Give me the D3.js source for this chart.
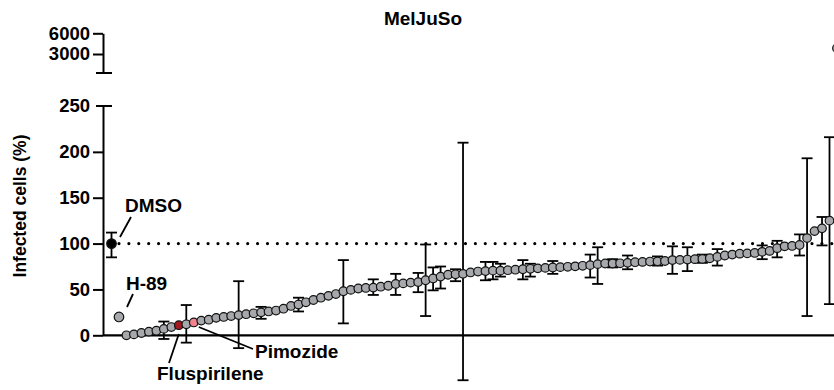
<!DOCTYPE html>
<html>
<head>
<meta charset="utf-8">
<script src="https://cdn.jsdelivr.net/npm/d3@7"></script>
<style>
  html, body { margin: 0; padding: 0; background: #fff; }
  svg { display: block; font-family: "Liberation Sans", Arial, sans-serif; font-weight: bold; }
</style>
</head>
<body>
<div id="chart"></div>
<script>
// MelJuSo screen - infected cells per compound, sorted ascending

const controlNames = ['DMSO', 'H-89'];
const controlValues = [100, 20];
const controlErr = [[85, 112], null];

// compound means (%), sorted; last one sits on the upper (broken) axis segment
const values = [
  0, 1, 2.5, 4, 5, 7, 9, 11, 12, 14,
  16, 17, 19, 20, 21, 22, 23, 24, 25, 26,
  27, 29, 32, 33.5, 36, 38.5, 41, 43, 45, 48,
  49.5, 51, 51.6, 52, 53, 54, 56, 56.6, 57.4, 58,
  60, 62, 64, 66, 66.5, 67, 68.5, 69.5, 70, 70.5,
  70.5, 71, 71.5, 72, 72.5, 73, 73.5, 74, 74.3, 74.7,
  75.2, 75.8, 76.5, 77.6, 78.3, 78.3, 78.5, 79, 79.7, 80,
  80.4, 80.6, 81, 82, 82.2, 82.6, 83, 83.3, 84, 85.5,
  87, 88, 89, 89.3, 89.8, 91, 92, 95, 97, 97.4,
  98.5, 106, 113.6, 116.6, 125, 3850
];

// [compound index, low, high] for the visible error bars
const errBars = [
  [5, -4, 15], [8, -8, 33], [15, -14, 59], [18, 18, 31], [23, 26, 41],
  [29, 13, 82], [33, 44, 61], [36, 44, 67], [39, 47, 68], [40, 21, 99],
  [41, 49, 74], [42, 51, 75], [44, 59, 72], [45, -49, 210], [48, 60, 80],
  [49, 61, 80], [50, 64, 78], [53, 61, 82], [54, 64, 78], [57, 67, 81],
  [62, 63, 88], [63, 56, 96], [65, 74, 83], [67, 72, 87], [71, 76, 86],
  [73, 67, 97], [75, 70, 96], [77, 79, 88], [79, 76, 94], [85, 83, 98],
  [87, 85, 103], [90, 87, 110], [91, 21, 193], [93, 98, 129], [94, 34, 216]
];

const hitNames = ['Fluspirilene', 'Pimozide'];
const hitIndex = [7, 9];

const lowTicks = [0, 50, 100, 150, 200, 250];
const highTicks = [3000, 6000];
const refLine = 100;

const W = 834, H = 390;
const axisX = 103;
const grey = '#a7a8ab';
const hitColors = ['#a3191f', '#f2838c'];

const svg = d3.select('#chart').append('svg')
  .attr('width', W)
  .attr('height', H);

// x: controls at -2, -1, compounds from 0
const x = d3.scaleLinear().domain([-2, 94]).range([111.5, 829.5]);
const yLow = d3.scaleLinear().domain([0, 250]).range([335.3, 106]);
const yHigh = d3.scaleLinear().domain([250, 6000]).range([73, 33.3]);
const yPos = v => v > 250 ? yHigh(v) : yLow(v);

// title + y label
svg.append('text')
  .attr('x', 423).attr('y', 25)
  .attr('text-anchor', 'middle')
  .attr('font-size', 19)
  .text('MelJuSo');

svg.append('text')
  .attr('transform', 'translate(26,206) rotate(-90)')
  .attr('text-anchor', 'middle')
  .attr('font-size', 17.5)
  .text('Infected cells (%)');

// y axes (two segments)
const styleAxis = g => {
  g.select('.domain').attr('stroke', '#000').attr('stroke-width', 2);
  g.selectAll('.tick line').attr('stroke', '#000').attr('stroke-width', 2);
  g.selectAll('.tick text')
    .attr('font-size', 18.5)
    .attr('font-weight', 'bold')
    .attr('font-family', '"Liberation Sans", Arial, sans-serif')
    .attr('fill', '#000');
};

const gLow = svg.append('g')
  .attr('transform', `translate(${axisX},0)`)
  .call(d3.axisLeft(yLow).tickValues(lowTicks).tickSize(10).tickSizeOuter(0).tickPadding(3))
  .call(styleAxis);
gLow.selectAll('.tick').filter(d => d === 250).select('line').remove();

svg.append('g')
  .attr('transform', `translate(${axisX},0)`)
  .call(d3.axisLeft(yHigh).tickValues(highTicks).tickFormat(d3.format('d'))
    .tickSize(10).tickSizeOuter(0).tickPadding(3))
  .call(styleAxis);

// break caps
[yHigh(250), yLow(250)].forEach(yy => {
  svg.append('line')
    .attr('x1', axisX - 7).attr('x2', axisX + 9)
    .attr('y1', yy).attr('y2', yy)
    .attr('stroke', '#000').attr('stroke-width', 2);
});

// x axis line
svg.append('line')
  .attr('x1', axisX).attr('x2', W)
  .attr('y1', yLow(0)).attr('y2', yLow(0))
  .attr('stroke', '#000').attr('stroke-width', 2.2);

// dotted reference at DMSO level
svg.append('line')
  .attr('x1', x(-1)).attr('x2', W + 10)
  .attr('y1', yLow(refLine)).attr('y2', yLow(refLine))
  .attr('stroke', '#000')
  .attr('stroke-width', 3.2)
  .attr('stroke-linecap', 'round')
  .attr('stroke-dasharray', '0 9.9');

// error bars
const bars = errBars.map(([i, lo, hi]) => ({ x: x(i), lo, hi }));
controlErr.forEach((e, k) => { if (e) bars.push({ x: x(k - 2), lo: e[0], hi: e[1] }); });

const eg = svg.append('g').attr('stroke', '#000').attr('stroke-width', 1.8);
eg.selectAll('.ev').data(bars).join('line')
  .attr('x1', d => d.x).attr('x2', d => d.x)
  .attr('y1', d => yLow(d.lo)).attr('y2', d => yLow(d.hi));
eg.selectAll('.ct').data(bars).join('line')
  .attr('x1', d => d.x - 5.5).attr('x2', d => d.x + 5.5)
  .attr('y1', d => yLow(d.hi)).attr('y2', d => yLow(d.hi));
eg.selectAll('.cb').data(bars).join('line')
  .attr('x1', d => d.x - 5.5).attr('x2', d => d.x + 5.5)
  .attr('y1', d => yLow(d.lo)).attr('y2', d => yLow(d.lo));

// points
const fillFor = i => {
  const h = hitIndex.indexOf(i);
  return h >= 0 ? hitColors[h] : grey;
};

svg.append('g').selectAll('circle')
  .data(values).join('circle')
  .attr('cx', (d, i) => x(i))
  .attr('cy', d => yPos(d))
  .attr('r', 4.3)
  .attr('fill', (d, i) => fillFor(i))
  .attr('stroke', '#111')
  .attr('stroke-width', 1.2);

svg.append('g').selectAll('circle')
  .data(controlValues).join('circle')
  .attr('cx', (d, k) => x(k - 2))
  .attr('cy', d => yLow(d))
  .attr('r', 4.8)
  .attr('fill', (d, k) => k === 0 ? '#000' : grey)
  .attr('stroke', '#111')
  .attr('stroke-width', 1.2);

// annotations
const note = (text, tx, ty, lx1, ly1, lx2, ly2) => {
  svg.append('line')
    .attr('x1', lx1).attr('y1', ly1).attr('x2', lx2).attr('y2', ly2)
    .attr('stroke', '#000').attr('stroke-width', 1.8);
  svg.append('text')
    .attr('x', tx).attr('y', ty)
    .attr('font-size', 19)
    .text(text);
};

note(controlNames[0], 125, 212, 120, 237, 131, 217);
note(controlNames[1], 126, 290, 127, 307, 133, 294);
note(hitNames[0], 157, 380, x(hitIndex[0]), 334, 169, 363);
note(hitNames[1], 255, 358, x(hitIndex[1]) + 5, 327, 253, 349);
</script>
</body>
</html>
